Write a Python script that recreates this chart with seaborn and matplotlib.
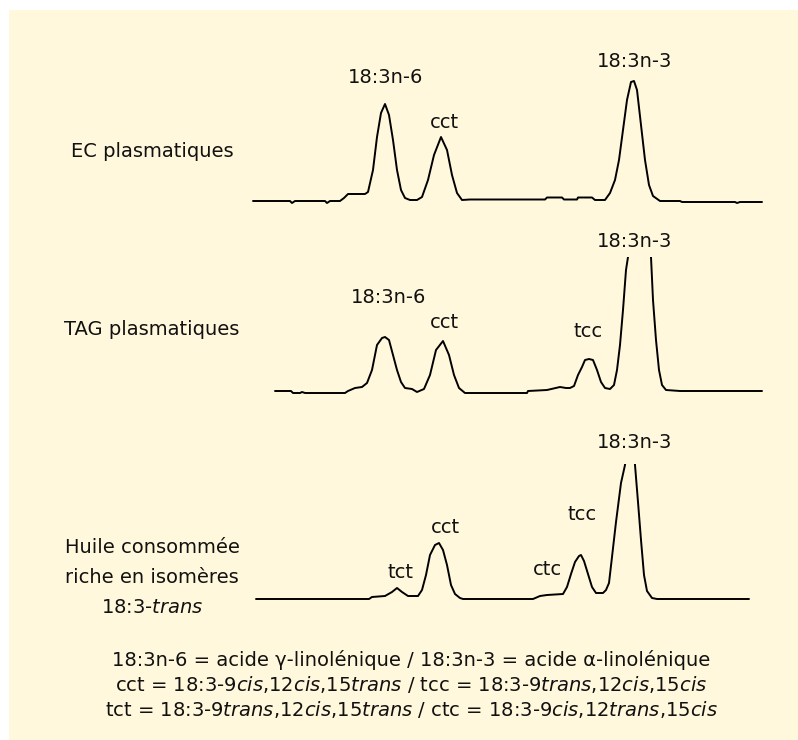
import matplotlib
matplotlib.use('Agg')
import matplotlib.pyplot as plt
from matplotlib.patches import Rectangle
import pandas as pd
import seaborn as sns

# Chromatogrammes (temps de rétention en unités arbitraires, signal au-dessus de la ligne de base)
ec_rt = [253, 290, 292, 295, 325, 327, 330, 340, 344, 348, 365, 368, 373, 377, 381, 385, 389, 393,
         397, 401, 405, 410, 417, 422, 428, 434, 441, 447, 452, 457, 462, 470, 545, 547, 562, 564,
         577, 578, 592, 595, 605, 610, 615, 619, 623, 627, 631, 634, 637, 641, 645, 649, 653, 660,
         680, 682, 700, 735, 737, 740, 762]
ec_sig = [0, 0, -2, 0, 0, -2, 0, 0, 3, 7, 7, 9, 31, 64, 88, 97, 86, 61,
          31, 11, 3, 1, 1, 4, 21, 46, 64, 51, 26, 8, 1, 1.5, 1.5, 3.5, 3.5, 1.5,
          1.5, 3.5, 3.5, 1, 1, 8, 21, 41, 71, 101, 119, 120, 111, 76, 41, 16, 5, 0,
          0, -1, -1, -1, -2, -1, -1]

tag_rt = [275, 291, 293, 300, 302, 305, 345, 348, 355, 362, 367, 372, 377, 382, 385, 389, 393, 397,
          401, 405, 412, 417, 424, 430, 436, 443, 449, 454, 459, 465, 527, 528, 547, 560, 566, 570,
          574, 578, 582, 585, 589, 593, 597, 601, 605, 610, 614, 617, 620, 623, 626, 628, 640, 651,
          653, 656, 659, 662, 666, 680, 762]
tag_sig = [1, 1, -1, -1, 0, -1, -1, 1, 4, 5, 9, 22, 47, 54, 55, 52, 37, 22,
           10, 4, 3, 0, 3, 17, 42, 51, 37, 17, 4, -1, -1, 1, 2, 5, 4, 4,
           6, 17, 25, 32, 33, 32, 22, 10, 4, 3, 7, 22, 47, 82, 122, 135, 210, 135,
           92, 52, 22, 7, 2, 1, 1]

oil_rt = [256, 369, 372, 385, 392, 397, 402, 408, 418, 422, 426, 430, 435, 439, 443, 447, 451, 455,
          460, 463, 533, 540, 547, 563, 567, 571, 575, 579, 581, 584, 588, 592, 596, 603, 606, 609,
          612, 616, 621, 625, 630, 635, 638, 641, 644, 647, 652, 657, 749]
oil_sig = [0, 0, 2, 3, 7, 11, 7, 3, 3, 9, 24, 44, 54, 56, 49, 34, 14, 5,
           1, 0, 0, 3, 4, 5, 12, 25, 37, 43, 44, 38, 25, 12, 6, 6, 9, 16,
           42, 77, 116, 134, 210, 134, 97, 59, 24, 8, 1, 0, 0]

sample_names = ['EC plasmatiques', 'TAG plasmatiques',
                'Huile consommée\nriche en isomères\n18:3-$\\mathit{trans}$']

# étiquettes des pics : (texte, temps de rétention, hauteur de l'étiquette)
ec_labels = [('18:3n-6', 386, 118), ('cct', 444, 73), ('18:3n-3', 635, 134)]
tag_labels = [('18:3n-6', 389, 89), ('cct', 444, 64), ('tcc', 588, 55), ('18:3n-3', 635, 145)]
oil_labels = [('tct', 401, 21), ('cct', 445, 66), ('ctc', 547, 24), ('tcc', 582, 79),
              ('18:3n-3', 635, 151)]

legend_lines = [
    '18:3n-6 = acide γ-linolénique / 18:3n-3 = acide α-linolénique',
    'cct = 18:3-9$\\mathit{cis}$,12$\\mathit{cis}$,15$\\mathit{trans}$ / tcc = 18:3-9$\\mathit{trans}$,12$\\mathit{cis}$,15$\\mathit{cis}$',
    'tct = 18:3-9$\\mathit{trans}$,12$\\mathit{cis}$,15$\\mathit{trans}$ / ctc = 18:3-9$\\mathit{cis}$,12$\\mathit{trans}$,15$\\mathit{cis}$',
]

sns.set_theme(style='white')
plt.rcParams['font.family'] = ['DejaVu Sans']
plt.rcParams['mathtext.fontset'] = 'dejavusans'
plt.rcParams['text.color'] = '#111111'

W, H = 798, 740
fig = plt.figure(figsize=(W / 100, H / 100), dpi=100)
fig.patch.set_facecolor('white')
fig.add_artist(Rectangle((9 / W, 0), 1, 1 - 10 / H, transform=fig.transFigure,
                         facecolor='#FFF8DC', edgecolor='none', zorder=0))

traces = [
    (ec_rt, ec_sig, ec_labels, 214),
    (tag_rt, tag_sig, tag_labels, 405),
    (oil_rt, oil_sig, oil_labels, 612),
]

for (rt, sig, labels, bottom_px) in traces:
    ax = fig.add_axes([240 / W, 1 - bottom_px / H, 540 / W, 148 / H])
    ax.set_facecolor('none')
    df = pd.DataFrame({'rt': rt, 'signal': sig})
    sns.lineplot(data=df, x='rt', y='signal', ax=ax, color='black', linewidth=1.4,
                 estimator=None, sort=False)
    ax.set_xlim(240, 780)
    ax.set_ylim(-13, 135)
    ax.axis('off')
    for txt, x, y in labels:
        ax.text(x, y, txt, ha='center', va='baseline', fontsize=14)

# noms des échantillons à gauche
fig.text(152 / W, 1 - 157 / H, sample_names[0], ha='center', va='baseline', fontsize=14)
fig.text(152 / W, 1 - 335 / H, sample_names[1], ha='center', va='baseline', fontsize=14)
for i, line in enumerate(sample_names[2].split('\n')):
    fig.text(152 / W, 1 - (553 + 30 * i) / H, line, ha='center', va='baseline', fontsize=14)

for i, line in enumerate(legend_lines):
    fig.text(411 / W, 1 - (666 + 25 * i) / H, line, ha='center', va='baseline', fontsize=14)

fig.savefig('out.png', dpi=100)
